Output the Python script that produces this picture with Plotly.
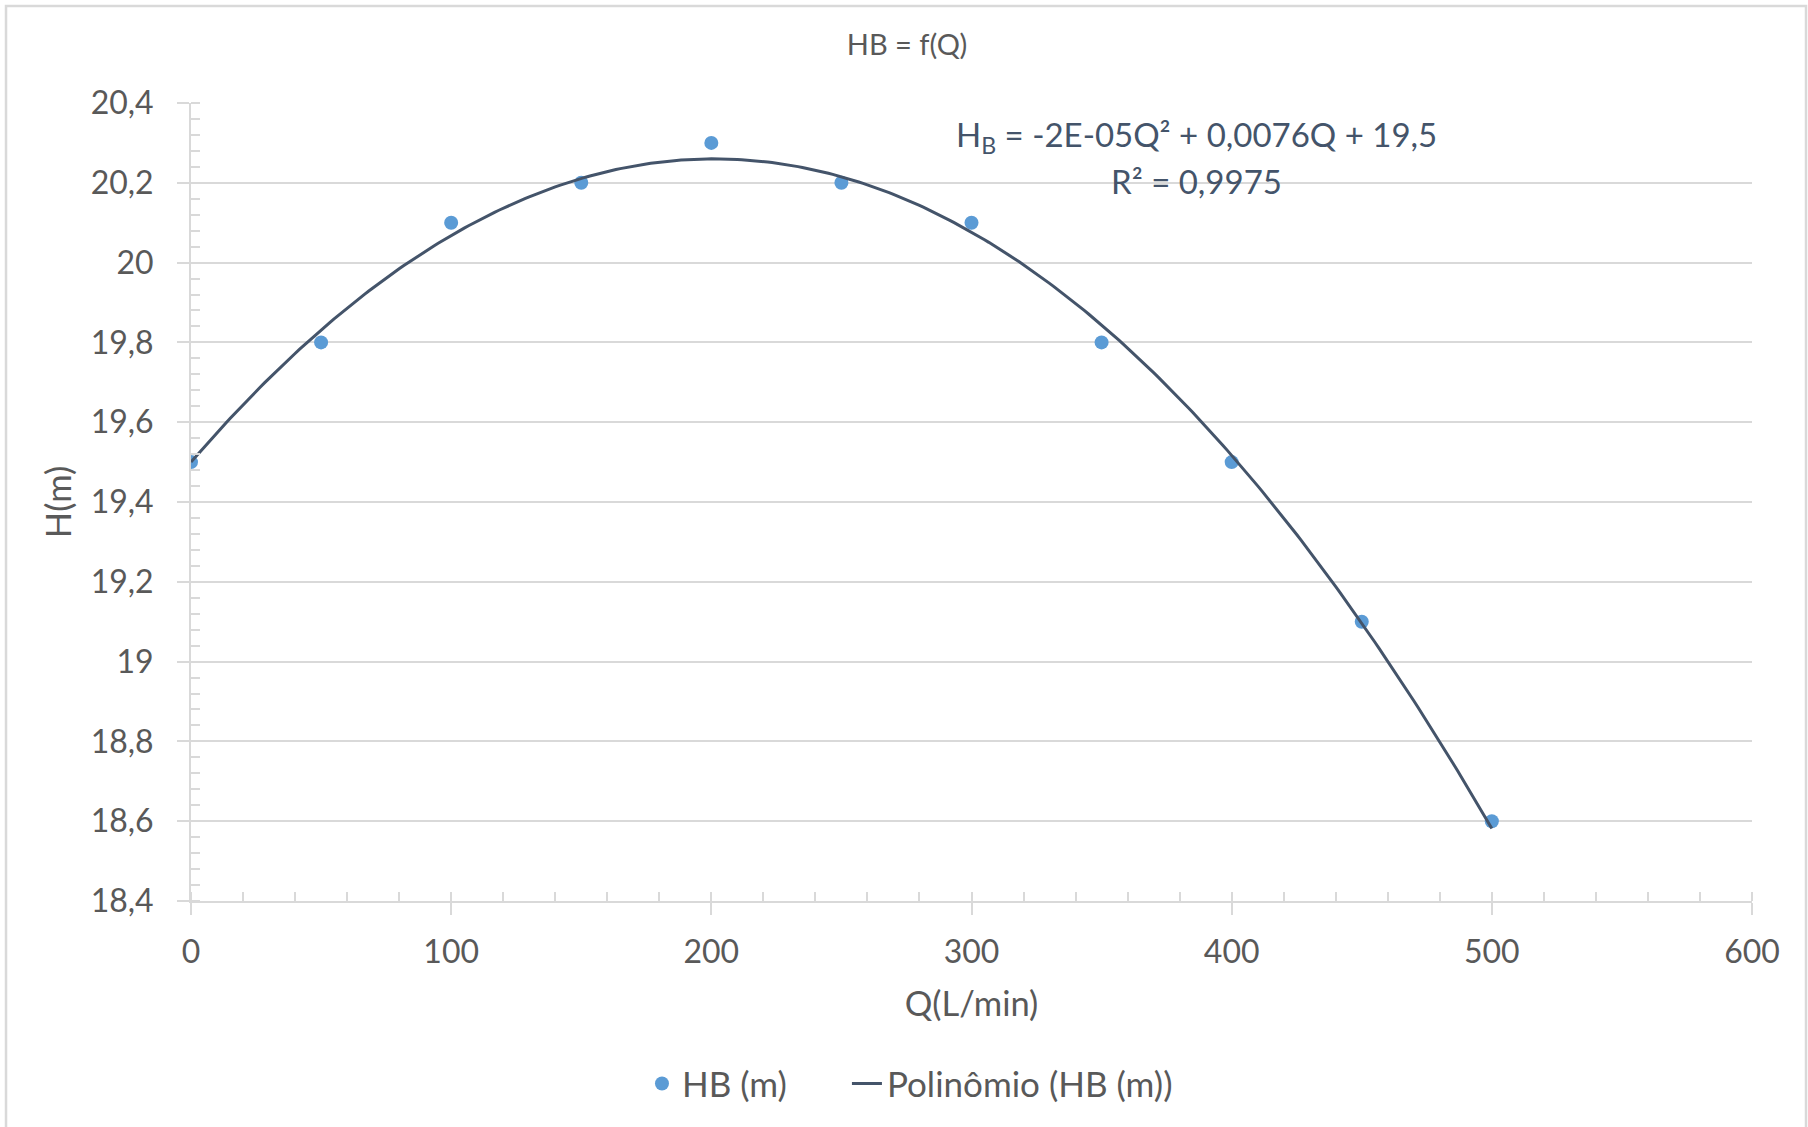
import numpy as np
import plotly.graph_objects as go

# ---- data ----
q_values = [0, 50, 100, 150, 200, 250, 300, 350, 400, 450, 500]
hb_values = [19.5, 19.8, 20.1, 20.2, 20.3, 20.2, 20.1, 19.8, 19.5, 19.1, 18.6]

x_ticks = [0, 100, 200, 300, 400, 500, 600]
x_tick_labels = ["0", "100", "200", "300", "400", "500", "600"]
y_ticks = [18.4, 18.6, 18.8, 19.0, 19.2, 19.4, 19.6, 19.8, 20.0, 20.2, 20.4]
y_tick_labels = ["18,4", "18,6", "18,8", "19", "19,2", "19,4", "19,6", "19,8", "20", "20,2", "20,4"]

title_text = "HB = f(Q)"
x_title = "Q(L/min)"
y_title = "H(m)"
series_name = "HB (m)"
trend_name = "Polinômio (HB (m))"
eq_line1 = "H<sub>B</sub> = -2E-05Q² + 0,0076Q + 19,5"
eq_line2 = "R² = 0,9975"

# ---- second-order polynomial trendline (least squares fit of the data) ----
coef = np.polyfit(q_values, hb_values, 2)
q_fit = np.linspace(min(q_values), max(q_values), 301)
h_fit = np.polyval(coef, q_fit)

FONT = "Lato"
GRAY_TXT = "#595959"
GRID = "#D9D9D9"
BLUE = "#5B9BD5"
DARK = "#44546A"

fig = go.Figure()
fig.add_trace(go.Scatter(
    x=q_values, y=hb_values, mode="markers", name=series_name,
    marker=dict(color=BLUE, size=14), legend="legend",
))
fig.add_trace(go.Scatter(
    x=q_fit, y=h_fit, mode="lines", name=trend_name,
    line=dict(color=DARK, width=3), legend="legend2",
))

fig.add_annotation(x=386.6, y=20.315, xref="x", yref="y", text=eq_line1,
                   showarrow=False, font=dict(family=FONT, size=33, color=DARK),
                   xanchor="center", yanchor="middle")
fig.add_annotation(x=386.6, y=20.204, xref="x", yref="y", text=eq_line2,
                   showarrow=False, font=dict(family=FONT, size=33, color=DARK),
                   xanchor="center", yanchor="middle")

# chart border
fig.add_shape(type="rect", xref="paper", yref="paper",
              x0=-0.1185, x1=1.0346, y0=-0.30, y1=1.1216,
              line=dict(color=GRID, width=2.5), fillcolor="rgba(0,0,0,0)", layer="below")

legend_font = dict(family=FONT, size=35, color=GRAY_TXT)

fig.update_layout(
    width=1808, height=1127,
    margin=dict(l=191, r=56, t=103, b=226),
    paper_bgcolor="white", plot_bgcolor="white",
    font=dict(family=FONT, color=GRAY_TXT),
    title=dict(text=title_text, x=907 / 1808, xanchor="center",
               y=1 - 45 / 1127, yanchor="middle", yref="container",
               font=dict(family=FONT, size=29, color=GRAY_TXT)),
    showlegend=True,
    legend=dict(orientation="h", x=0.2889, xanchor="left", y=-0.229, yanchor="middle",
                font=legend_font, bgcolor="rgba(0,0,0,0)"),
    legend2=dict(orientation="h", x=0.4202, xanchor="left", y=-0.229, yanchor="middle",
                 font=legend_font, bgcolor="rgba(0,0,0,0)"),
    xaxis=dict(
        range=[0, 600], tickmode="array", tickvals=x_ticks, ticktext=x_tick_labels,
        showgrid=False, zeroline=False, showline=True, linecolor=GRID, linewidth=2,
        ticks="outside", ticklen=12, tickwidth=2, tickcolor=GRID,
        tickfont=dict(family=FONT, size=32, color=GRAY_TXT),
        ticklabelstandoff=10,
        minor=dict(tickmode="linear", tick0=0, dtick=20, ticks="inside", ticklen=9,
                   tickwidth=2, tickcolor=GRID, showgrid=False),
        title=dict(text=x_title, font=dict(family=FONT, size=34.5, color=GRAY_TXT), standoff=22),
    ),
    yaxis=dict(
        range=[18.4, 20.4], tickmode="array", tickvals=y_ticks, ticktext=y_tick_labels,
        showgrid=True, gridcolor=GRID, gridwidth=2, zeroline=False,
        showline=True, linecolor=GRID, linewidth=2,
        ticks="outside", ticklen=12, tickwidth=2, tickcolor=GRID,
        tickfont=dict(family=FONT, size=32, color=GRAY_TXT),
        ticklabelstandoff=17,
        minor=dict(tickmode="linear", tick0=18.4, dtick=0.04, ticks="inside", ticklen=9,
                   tickwidth=2, tickcolor=GRID, showgrid=False),
        title=dict(text=y_title, font=dict(family=FONT, size=34.5, color=GRAY_TXT), standoff=9),
    ),
)

fig.write_html("out.html")
